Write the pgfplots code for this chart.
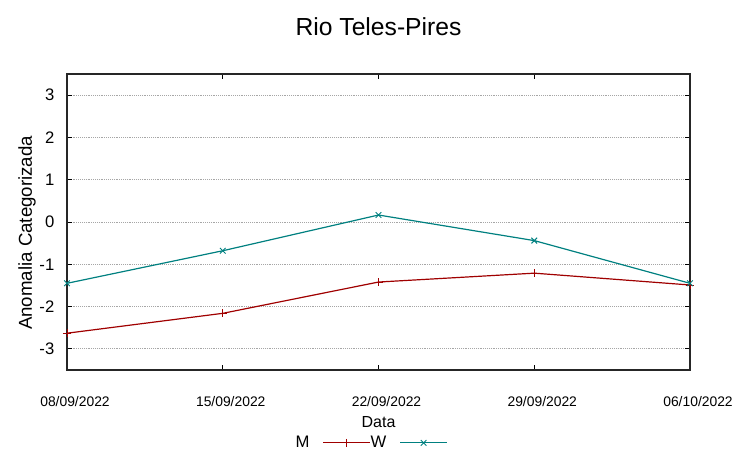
\documentclass[border=0pt]{standalone}
\usepackage{pgfplots}
\pgfplotsset{compat=1.18}
\usepackage{fontspec}
\setmainfont{Liberation Sans}
\definecolor{mred}{RGB}{160,0,0}
\definecolor{wteal}{RGB}{0,128,128}
\begin{document}
\begin{tikzpicture}
\begin{axis}[
  name=ax,
  scale only axis,
  width=467.25pt, height=222pt,
  xmin=0, xmax=4, ymin=-3.5, ymax=3.5,
  xtick={0,1,2,3,4},
  xticklabels={08/09/2022,15/09/2022,22/09/2022,29/09/2022,06/10/2022},
  ytick={-3,-2,-1,0,1,2,3},
  yticklabels={-3,-2,-1,0,1,2,3},
  tick align=inside,
  major tick length=4pt,
  tick style={black, line width=0.6pt},
  axis line style={black!85, line width=0.8pt},
  ymajorgrids,
  major grid style={densely dotted, gray!70, line width=0.6pt},
  xticklabel style={font=\fontsize{10.4}{12}\selectfont, yshift=-16pt, xshift=6pt},
  yticklabel style={font=\fontsize{12.5}{14}\selectfont, xshift=-6pt},
  title={Rio Teles-Pires},
  title style={font=\fontsize{18.5}{20}\selectfont, at={(axis description cs:0.5,1.132)}, anchor=center},
  xlabel={Data},
  xlabel style={font=\fontsize{12}{14}\selectfont, at={(axis description cs:0.5,-0.1757)}, anchor=center},
  ylabel={Anomalia Categorizada},
  ylabel style={font=\fontsize{14}{16}\selectfont, at={(axis description cs:-0.0642,0.463)}, anchor=center, rotate=0},
  legend columns=2,
  legend plot pos=right,
  legend style={draw=none, fill=none, font=\fontsize{12.5}{14}\selectfont,
    at={(axis description cs:0.489,-0.2462)}, anchor=center,
    nodes={inner xsep=0pt},
    /tikz/every even column/.append style={column sep=0pt}},
  legend image code/.code={\path (0pt,0pt); \draw[mark repeat=2, mark phase=2] plot coordinates {(9.75pt,0pt) (27.4pt,0pt) (45pt,0pt)};},
]
\addplot[mred, line width=0.9pt, mark=+, mark size=3pt, mark options={line width=0.7pt}] coordinates {
  (0,-2.63) (1,-2.16) (2,-1.42) (3,-1.21) (4,-1.49)};
\addlegendentry{M}
\addplot[wteal, line width=0.9pt, mark=x, mark size=3pt, mark options={line width=0.7pt}] coordinates {
  (0,-1.45) (1,-0.68) (2,0.165) (3,-0.44) (4,-1.45)};
\addlegendentry{W}
\end{axis}
\pgfresetboundingbox
\path[use as bounding box] ([shift={(-50.25pt,-66pt)}]ax.south west) rectangle ([shift={(46.5pt,55.5pt)}]ax.north east);
\end{tikzpicture}
\end{document}
